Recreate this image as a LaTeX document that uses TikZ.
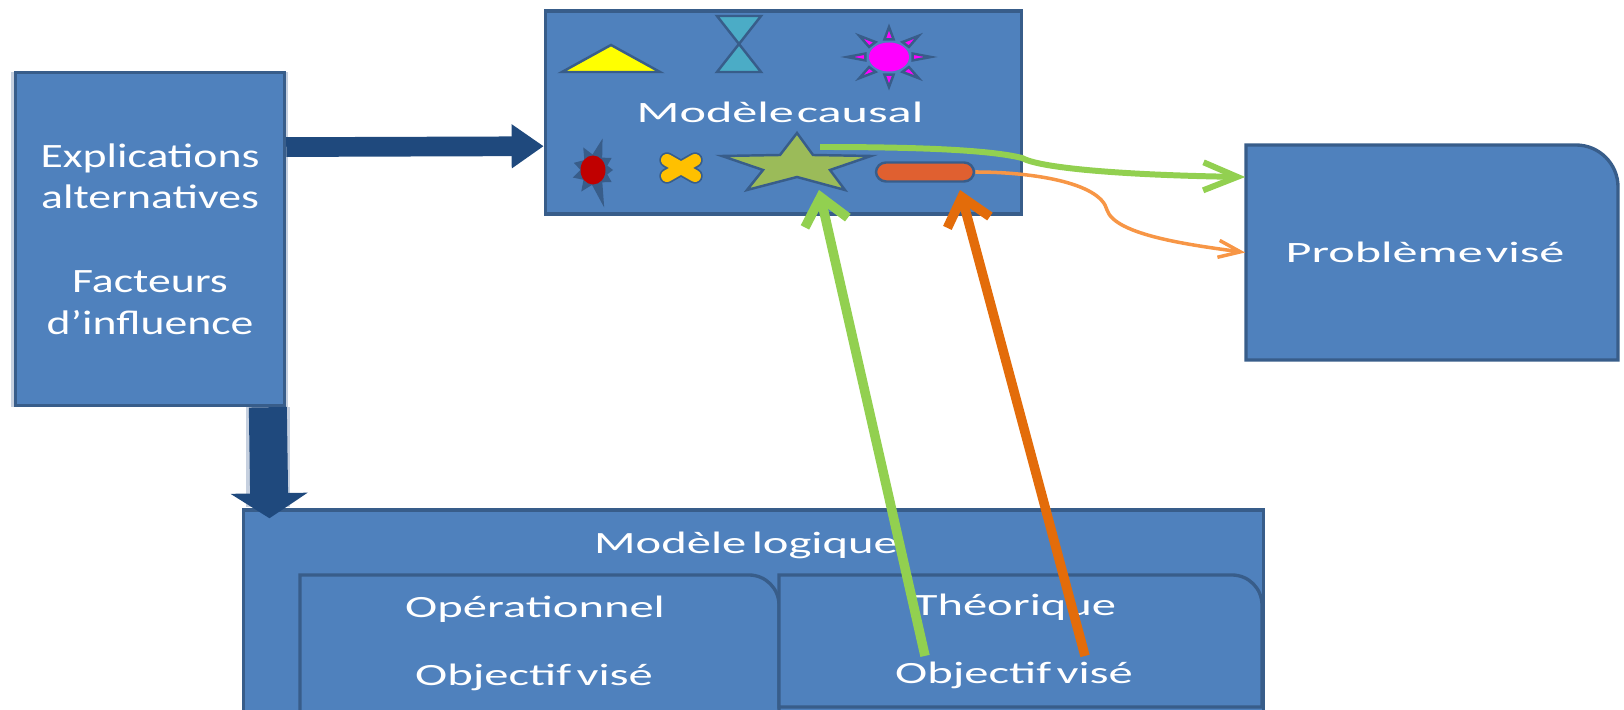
\documentclass[tikz,border=0pt]{standalone}
\usepackage{fontspec}
\setmainfont{Carlito}
\newfontfamily\leftfont[FakeStretch=1.34]{Carlito}
\newfontfamily\widefont[FakeStretch=1.7,WordSpace=0.25]{Carlito}
\newfontfamily\logicfont[FakeStretch=1.57,WordSpace=0.5]{Carlito}
\usetikzlibrary{arrows.meta,calc}
\definecolor{boxblue}{HTML}{4F81BD}
\definecolor{edgeblue}{HTML}{385D8A}
\definecolor{darkblue}{HTML}{1F497D}
\definecolor{greenline}{HTML}{92D050}
\definecolor{orangeline}{HTML}{E36C0A}
\definecolor{orangelight}{HTML}{F79646}
\definecolor{halo}{HTML}{C6D0DF}
\definecolor{pureyellow}{RGB}{255,255,0}
\definecolor{puremagenta}{RGB}{255,0,255}
\definecolor{hourteal}{HTML}{4BACC6}
\definecolor{burstred}{HTML}{C00000}
\definecolor{crossgold}{HTML}{FFC000}
\definecolor{stargreen}{HTML}{9BBB59}
\definecolor{pillred}{HTML}{E06030}
\newcommand{\onecorner}[5]{%
  \draw[tabbox] (#1,#2) [rounded corners=#5] -- (#3,#2) [sharp corners] -- (#3,#4) -- (#1,#4) -- cycle;}
\begin{document}
\begin{tikzpicture}[
    x=0.01cm, y=-0.01cm,
    bluebox/.style={rectangle, draw=edgeblue, fill=boxblue, line width=0.95pt, text=white, inner sep=0pt},
    tabbox/.style={draw=edgeblue, fill=boxblue, line width=0.95pt},
    label/.style={text=white, inner sep=0pt},
    sketch/.style={draw=edgeblue, line width=0.7pt, line join=miter}
]
\useasboundingbox (0,0) rectangle (1624,710);
\clip (0,0) rectangle (1624,710);
% Boites
\fill[halo] (11,72) rectangle (288,407);
\node[bluebox, minimum width=2.69cm, minimum height=3.33cm, align=center, font=\leftfont\fontsize{9.7}{11.9}\selectfont] (expl) at (150,239) {Explications\\alternatives\\[11.9pt]Facteurs\\d’influence};
\node[bluebox, minimum width=4.76cm, minimum height=2.03cm] (causal) at (783.5,112.5) {};
\onecorner{1246}{145}{1618}{360}{0.42cm}
\node[label, minimum width=3.72cm, minimum height=2.15cm, font=\widefont\fontsize{8.4}{10}\selectfont] (probleme) at (1432,252.5) {\hspace*{-0.14cm}Problème visé};
\node[bluebox, minimum width=10.19cm, minimum height=2.2cm] (logique) at (753.5,620) {};
\onecorner{300}{575}{779}{716}{0.3cm}
\onecorner{779}{575}{1262}{707}{0.3cm}

% Textes
\node[label, font=\widefont\fontsize{8.4}{10}\selectfont] (titrecausal) at (780,112) {Modèle causal};
\node[label, font=\logicfont\fontsize{8.8}{10}\selectfont] (titrelogique) at (746,545) {Modèle logique};
\node[label, font=\logicfont\fontsize{8.8}{10}\selectfont] (oper) at (535,609) {Opérationnel};
\node[label, font=\logicfont\fontsize{8.8}{10}\selectfont] (objoper) at (534,677) {Objectif visé};
\node[label, font=\logicfont\fontsize{8.8}{10}\selectfont] (theo) at (1015,607) {Théorique};
\node[label, font=\logicfont\fontsize{8.8}{10}\selectfont] (objtheo) at (1014,675) {Objectif visé};

% Formes du modele causal
\draw[sketch, fill=pureyellow] (562,72) -- (611,45) -- (660,72) -- cycle;
\draw[sketch, fill=hourteal] (717,16) -- (761,16) -- (717,72) -- (761,72) -- cycle;
\foreach \a in {0,45,...,315} {
  \draw[sketch, fill=puremagenta] ({889+24*cos(\a-11)},{57+18*sin(\a-11)}) -- ({889+42*cos(\a)},{57+30*sin(\a)}) -- ({889+24*cos(\a+11)},{57+18*sin(\a+11)}) -- cycle;
}
\fill[puremagenta] (889,57) ellipse [x radius=0.2cm, y radius=0.145cm];
\foreach \a/\r in {0/17,35/19,75/33,120/22,160/20,200/19,245/22,285/28,325/19} {
  \draw[sketch, fill=edgeblue] ({594+11*cos(\a-24)},{170+13*sin(\a-24)}) -- ({594+\r*cos(\a)},{170+\r*sin(\a)}) -- ({594+11*cos(\a+24)},{170+13*sin(\a+24)}) -- cycle;
}
\fill[burstred] (593,170) ellipse [x radius=0.125cm, y radius=0.145cm];
\draw[edgeblue, line width=4.4pt, line cap=round] (667,160) -- (695,176) (667,176) -- (695,160);
\draw[crossgold, line width=3.4pt, line cap=round] (667,160) -- (695,176) (667,176) -- (695,160);
\draw[sketch, fill=stargreen] (797,133) -- (813,155) -- (871,156) -- (830,170) -- (845,190) -- (797,177) -- (747,190) -- (763,170) -- (722,156) -- (780,155) -- cycle;
\node[draw=edgeblue, fill=pillred, line width=0.7pt, rounded corners=0.1cm, minimum width=0.98cm, minimum height=0.19cm, inner sep=0pt] (pill) at (925,172) {};
\coordinate (starhead) at (820,147);
\coordinate (starfoot) at (819,190);
\coordinate (pillfoot) at (960,190);

% Fleches
\draw[halo, line width=12.5pt] (expl.-55.2) -- ($(expl.-55.2)+(0,100)$);
\draw[darkblue, line width=5.6pt, -{Triangle[width=0.42cm, length=0.32cm]}] (expl.34.5) -- (causal.188.4);
\draw[darkblue, line width=10.8pt, -{Triangle[width=0.76cm, length=0.25cm]}, shorten >=-0.1cm] (expl.-55.2) -- (logique.167.31);
\draw[greenline, line width=2.7pt, -{Straight Barb[width=0.44cm, length=0.26cm]}] ($(objtheo.north)+(-89,-5)$) -- (starfoot);
\draw[orangeline, line width=2.7pt, -{Straight Barb[width=0.44cm, length=0.26cm]}] ($(objtheo.north)+(71,-5)$) -- (pillfoot);
\draw[greenline, line width=1.7pt, -{Straight Barb[width=0.28cm, length=0.34cm]}] (starhead) .. controls (920,147) and (990,150) .. (1022,158) .. controls (1040,168) and (1120,175) .. (probleme.158.7);
\draw[orangelight, line width=1pt, -{Straight Barb[width=0.17cm, length=0.22cm]}] (pill.east) .. controls (1030,172) and (1100,182) .. (1107,210) .. controls (1115,235) and (1190,245) .. (probleme.west);
\end{tikzpicture}
\end{document}
